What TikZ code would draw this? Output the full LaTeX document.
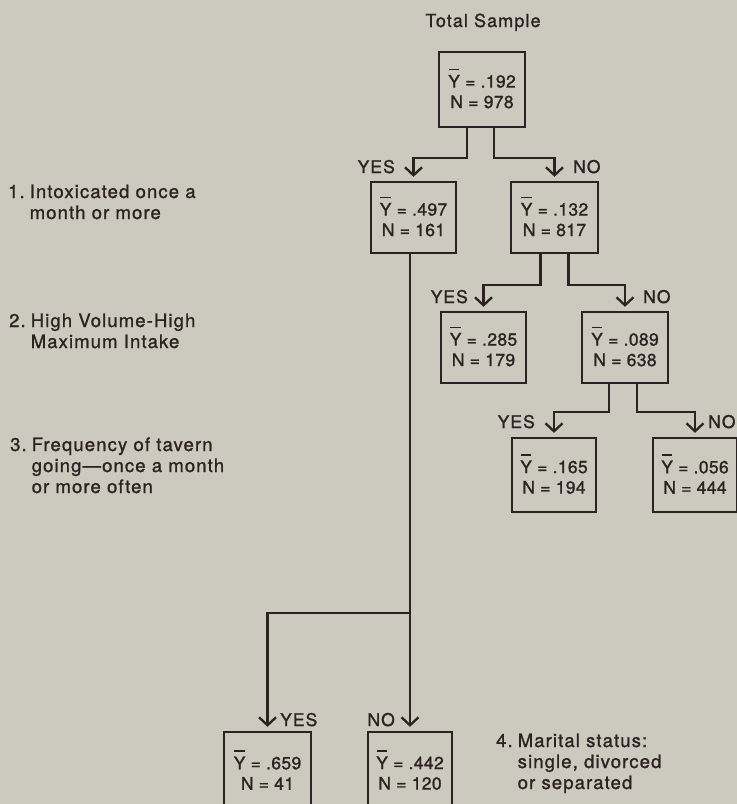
\documentclass[tikz,border=0pt]{standalone}
\usepackage{fontspec}
\setmainfont[LetterSpace=6,FakeBold=1.2]{TeX Gyre Heros}
\newfontfamily\boxfont[LetterSpace=2,FakeBold=1.2]{TeX Gyre Heros}
\usetikzlibrary{arrows.meta}
\definecolor{bg}{RGB}{204,201,190}
\definecolor{ink}{RGB}{42,35,33}
\newcommand\Yb{\rule{0pt}{17pt}\makebox[0pt][l]{\hspace{0.04em}\raisebox{0.98em}[0pt][0pt]{\rule{0.6em}{0.1em}}}Y}
\newcommand\eq{\hspace{0.3em}=\hspace{0.3em}}
\tikzset{
  box/.style={draw=ink, line width=2.3pt, minimum width=86pt, minimum height=72pt,
    align=center, inner sep=0pt, font=\boxfont\fontsize{17.5}{20.5}\selectfont, text=ink},
  lab/.style={font=\fontsize{17.5}{20}\selectfont, text=ink, inner sep=0pt},
  arr/.style={draw=ink, line width=2.3pt, -{Straight Barb[length=8pt,width=17pt]}, shorten >=4pt},
  ln/.style={draw=ink, line width=2.3pt},
  itemtxt/.style={font=\fontsize{18.5}{21}\selectfont, text=ink, inner sep=0pt, anchor=base west}
}
\begin{document}
\begin{tikzpicture}[x=1pt,y=-1pt]
\fill[bg] (0,0) rectangle (737,804);
\useasboundingbox (0,0) rectangle (737,804);

\node[lab, font=\fontsize{18}{20}\selectfont, anchor=base] (title) at (483,27) {Total Sample};

\node[box, minimum width=86pt, minimum height=75pt] (root) at (482,89.5) {\Yb\eq.192\\N\eq978};
\node[box, minimum width=85pt, minimum height=71pt] (b1) at (413.5,217.5) {\Yb\eq.497\\N\eq161};
\node[box, minimum width=87pt, minimum height=71pt] (b2) at (554.5,217.5) {\Yb\eq.132\\N\eq817};
\node[box, minimum width=85pt, minimum height=71pt] (b3) at (483.5,347.5) {\Yb\eq.285\\N\eq179};
\node[box, minimum width=86pt, minimum height=71pt] (b4) at (625,347.5) {\Yb\eq.089\\N\eq638};
\node[box, minimum width=84pt, minimum height=74pt] (b5) at (554,475) {\Yb\eq.165\\N\eq194};
\node[box, minimum width=84pt, minimum height=74pt] (b6) at (695,475) {\Yb\eq.056\\N\eq444};
\node[box, minimum width=87pt, minimum height=78pt] (b7) at (267.5,771) {\Yb\eq.659\\N\eq41};
\node[box, minimum width=84pt, minimum height=78pt] (b8) at (410,771) {\Yb\eq.442\\N\eq120};

\draw[arr] ([xshift=-15pt]root.south) -- ++(0,30) -| (b1.north);
\draw[arr] ([xshift=12pt]root.south) -- ++(0,30) -| (b2.north);
\draw[arr] ([xshift=-14pt]b2.south) -- ++(0,31) -| (b3.north);
\draw[arr] ([xshift=14pt]b2.south) -- ++(0,31) -| (b4.north);
\draw[arr] ([xshift=-16pt]b4.south) -- ++(0,28) -| (b5.north);
\draw[arr] ([xshift=12pt]b4.south) -- ++(0,28) -| (b6.north);
\coordinate (j) at (410,613);
\draw[ln] ([xshift=-3.5pt]b1.south) -- (j);
\draw[arr] (j) -| (b7.north);
\draw[arr] (j) -- (j |- b8.north);

\node[lab, anchor=base east] (y1) at (395,173) {YES};
\node[lab, anchor=base west] (n1) at (573,173) {NO};
\node[lab, anchor=base east] (y2) at (468,303) {YES};
\node[lab, anchor=base west] (n2) at (643,303) {NO};
\node[lab, anchor=base east] (y3) at (535,428) {YES};
\node[lab, anchor=base west] (n3) at (708,428) {NO};
\node[lab, anchor=base west] (y4) at (280,726) {YES};
\node[lab, anchor=base east] (n4) at (395,726) {NO};

\node[itemtxt] (q1) at (8,198) {\begin{tabular}[t]{@{}l@{\hspace{5pt}}l@{}}1.&Intoxicated once a\\&month or more\end{tabular}};
\node[itemtxt] (q2) at (9,327) {\begin{tabular}[t]{@{}l@{\hspace{5pt}}l@{}}2.&High Volume-High\\&Maximum Intake\end{tabular}};
\node[itemtxt] (q3) at (10,451) {\begin{tabular}[t]{@{}l@{\hspace{5pt}}l@{}}3.&Frequency of tavern\\&going\textemdash once a month\\&or more often\end{tabular}};
\node[itemtxt] (q4) at (496,747) {\begin{tabular}[t]{@{}l@{\hspace{5pt}}l@{}}4.&Marital status:\\&single, divorced\\&or separated\end{tabular}};
\end{tikzpicture}
\end{document}
